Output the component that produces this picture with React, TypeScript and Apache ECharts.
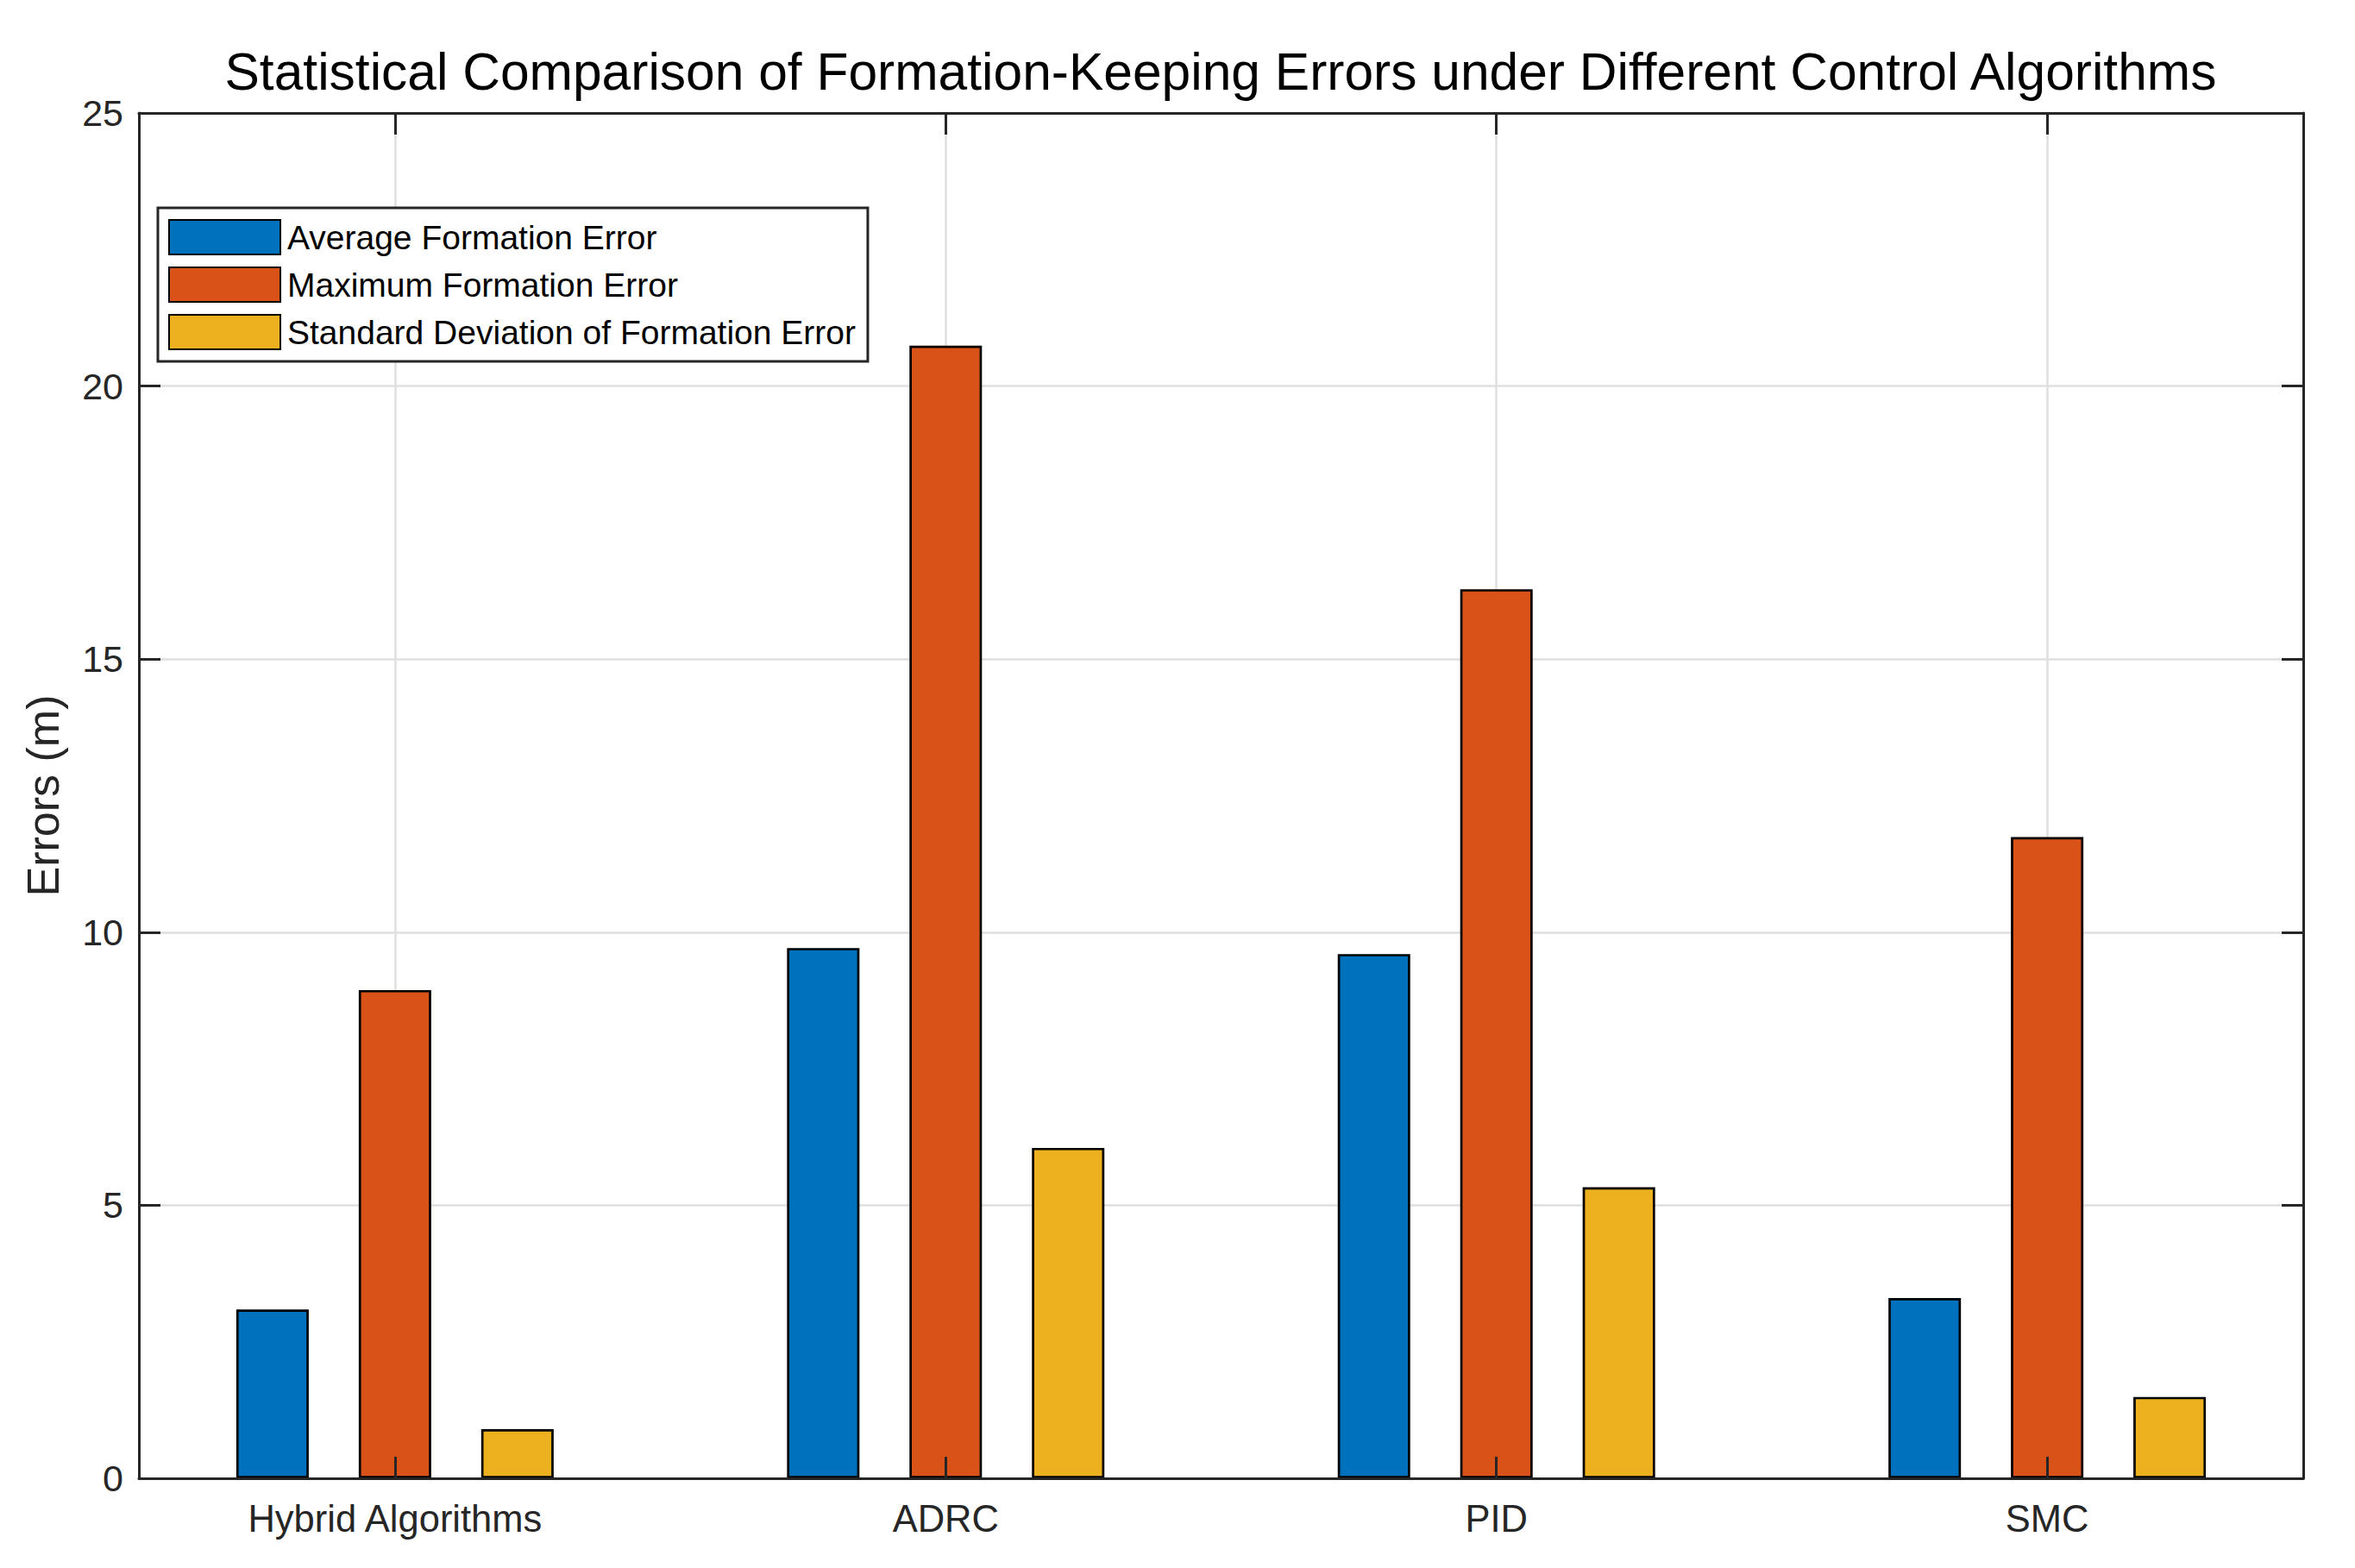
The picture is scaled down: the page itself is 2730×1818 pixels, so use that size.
import React, { useEffect, useRef } from 'react';
import * as echarts from 'echarts';

const chartTitle = 'Statistical Comparison of Formation-Keeping Errors under Different Control Algorithms';
const yAxisLabel = 'Errors (m)';
const categories = ['Hybrid Algorithms', 'ADRC', 'PID', 'SMC'];
const categoryPositions = [1, 2, 3, 4];
const seriesNames = [
  'Average Formation Error',
  'Maximum Formation Error',
  'Standard Deviation of Formation Error',
];
const averageError = [3.09, 9.71, 9.6, 3.3];
const maximumError = [8.94, 20.74, 16.28, 11.74];
const stdDevError = [0.9, 6.05, 5.33, 1.49];
const seriesColors = ['#0072BD', '#D95319', '#EDB120'];

const FONT = '"Liberation Sans", Arial, Helvetica, sans-serif';
const AX = '#262626';

export default function App() {
  const ref = useRef<HTMLDivElement>(null);
  useEffect(() => {
    if (!ref.current) return;
    const chart = echarts.init(ref.current, null, { renderer: 'svg' });
    const values = [averageError, maximumError, stdDevError];
    const xMin = 0.535;
    const xMax = 4.465;
    const baseX = {
      type: 'value',
      min: xMin,
      max: xMax,
      axisLine: { show: true, onZero: false, lineStyle: { color: AX, width: 3 } },
      axisTick: { show: true, inside: true, length: 25, customValues: categoryPositions, lineStyle: { color: AX, width: 3 } },
      axisLabel: { show: false, customValues: categoryPositions },
      splitLine: { show: false },
      z: 10,
    };
    const baseY = {
      type: 'value',
      min: 0,
      max: 25,
      interval: 5,
      axisLine: { show: true, onZero: false, lineStyle: { color: AX, width: 3 } },
      axisTick: { show: true, inside: true, length: 25, lineStyle: { color: AX, width: 3 } },
      axisLabel: { show: false },
      splitLine: { show: false },
      z: 10,
    };
    const option: any = {
      animation: false,
      backgroundColor: '#ffffff',
      title: {
        text: chartTitle,
        left: 1410,
        top: 47,
        textAlign: 'center',
        textStyle: { fontFamily: FONT, fontSize: 60.5, fontWeight: 'normal', color: '#000000' },
      },
      grid: { left: 161, right: 60, top: 131, bottom: 104, containLabel: false },
      legend: {
        orient: 'vertical',
        left: 183,
        top: 241,
        padding: [13, 14, 13, 12],
        itemWidth: 129,
        itemHeight: 40,
        itemGap: 13,
        backgroundColor: '#ffffff',
        borderColor: AX,
        borderWidth: 3,
        borderRadius: 0,
        icon: 'rect',
        data: seriesNames,
        textStyle: { fontFamily: FONT, fontSize: 39, color: '#000000', padding: [0, 0, 0, 3] },
      },
      xAxis: [
        {
          ...baseX,
          position: 'bottom',
          axisLabel: {
            show: true,
            customValues: categoryPositions,
            margin: 25,
            fontFamily: FONT,
            fontSize: 43.5,
            color: AX,
            formatter: (v: number) => categories[Math.round(v) - 1] ?? '',
          },
        },
        { ...baseX, position: 'top' },
        {
          ...baseX,
          position: 'bottom',
          axisLine: { show: false, onZero: false },
          axisTick: { show: false, customValues: categoryPositions },
          splitLine: { show: true, lineStyle: { color: '#DFDFDF', width: 2.5 } },
          z: 0,
        },
      ],
      yAxis: [
        {
          ...baseY,
          position: 'left',
          name: yAxisLabel,
          nameLocation: 'middle',
          nameRotate: 90,
          nameGap: 85,
          nameTextStyle: { fontFamily: FONT, fontSize: 52, color: AX },
          axisLabel: { show: true, margin: 18, fontFamily: FONT, fontSize: 43, color: AX },
        },
        { ...baseY, position: 'right' },
        {
          ...baseY,
          position: 'left',
          axisLine: { show: false, onZero: false },
          axisTick: { show: false },
          splitLine: { show: true, lineStyle: { color: '#DFDFDF', width: 2.5 } },
          z: 0,
        },
      ],
      series: seriesNames.map((name, si) => ({
        name,
        type: 'bar',
        xAxisIndex: 0,
        yAxisIndex: 0,
        barWidth: 84,
        barGap: '69%',
        itemStyle: { color: seriesColors[si], borderColor: '#000000', borderWidth: 2.7 },
        data: categoryPositions.map((x, i) => [x, values[si][i]]),
      })),
    };
    chart.setOption(option);
    return () => chart.dispose();
  }, []);
  return (
    <div
      ref={ref}
      style={{ position: 'fixed', left: 0, top: 0, width: 2730, height: 1818, background: '#fff' }}
    />
  );
}
